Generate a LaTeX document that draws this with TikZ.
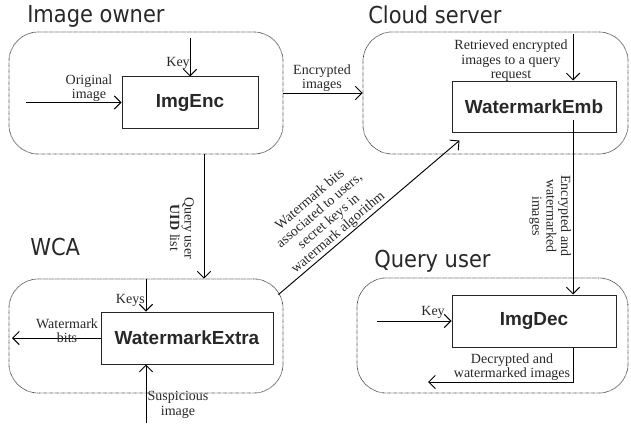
\documentclass[tikz,border=0pt]{standalone}
\usepackage{fontspec}
\setmainfont{Liberation Serif}
\newfontfamily\titrefont[FakeStretch=0.9]{DejaVu Sans}
\newfontfamily\boitefont{Liberation Sans}
\usepackage{xcolor}
\usepackage{tikz}
\usetikzlibrary{positioning, arrows.meta, calc}
\definecolor{grisbord}{RGB}{60, 60, 60}
\definecolor{gristexte}{RGB}{40, 40, 40}

\tikzset{
  groupe/.style={draw=grisbord, dash pattern=on 0.45pt off 0.45pt, rounded corners=22pt, line width=0.6pt, inner sep=0pt},
  boite/.style={draw=black!85, line width=0.75pt, inner sep=0pt, font=\boitefont\bfseries\fontsize{14.2}{16}\selectfont, text=gristexte},
  titre/.style={anchor=base west, inner sep=0pt, font=\titrefont\fontsize{17.5}{20}\selectfont, text=gristexte},
  etiq/.style={align=center, inner sep=0pt, font=\fontsize{10.5}{10.8}\selectfont, text=gristexte},
  fleche/.style={-{Straight Barb[length=5pt, width=10pt]}, line width=0.7pt}
}

\begin{document}
\begin{tikzpicture}[x=0.75pt, y=-0.75pt]
    \useasboundingbox[fill=white] (0,0) rectangle (631,428);

    % les quatre entites
    \node[groupe, minimum width=205.5pt, minimum height=91.5pt] (owner) at (146,93) {};
    \node[groupe, minimum width=198.75pt, minimum height=91.5pt] (cloud) at (495.5,93) {};
    \node[groupe, minimum width=205.5pt, minimum height=85.5pt] (wca) at (146,336) {};
    \node[groupe, minimum width=203.25pt, minimum height=86.25pt] (query) at (492.5,335.5) {};

    \node[titre] (tOwner) at (27,23) {Image owner};
    \node[titre] (tCloud) at (368,24) {Cloud server};
    \node[titre] (tWca) at (30,255) {WCA};
    \node[titre] (tQuery) at (374,267) {Query user};

    % modules
    \node[boite, minimum width=102pt, minimum height=38.25pt] (enc) at (190,102.5) {ImgEnc};
    \node[boite, minimum width=123pt, minimum height=38.25pt] (emb) at (534,106.5) {WatermarkEmb};
    \node[boite, minimum width=129pt, minimum height=39pt] (extra) at (187,338) {WatermarkExtra};
    \node[boite, minimum width=123pt, minimum height=39pt] (dec) at (534,321) {ImgDec};

    % entrees et sorties libres
    \coordinate (keyIn) at (190,38);
    \coordinate (origIn) at (26,102.5);
    \coordinate (retIn) at (573,34);
    \coordinate (decOut) at (428,382);
    \coordinate (keyDecIn) at (377,321);
    \coordinate (suspIn) at (146,423);
    \coordinate (bitsOut) at (12,338);

    % image owner
    \draw[fleche] (keyIn) -- (enc.north);
    \draw[fleche] (origIn) -- (enc.west);
    \node[etiq, anchor=east] (lKey) at (190,63) {Key};
    \node[etiq] (lOrig) at (89,88) {Original\\image};

    % vers le serveur
    \draw[fleche] (owner.east) -- (cloud.west);
    \node[etiq] (lEnc) at (322,78) {Encrypted\\images};

    % cloud server
    \draw[fleche] (retIn) -- (retIn |- emb.north);
    \node[etiq] (lRet) at (511,61) {Retrieved encrypted\\images to a query\\request};
    \draw[fleche] ([yshift=9.75pt]emb.south -| retIn) -- (dec.north -| retIn);
    \node[etiq, rotate=-90] (lEw) at (550,216) {Encrypted and\\watermarked\\images};

    % query user
    \draw[fleche] (keyDecIn) -- (dec.west);
    \node[etiq, anchor=east] (lKeyDec) at (445,312) {Key};
    \draw[fleche] (dec.south -| retIn) |- (decOut);
    \node[etiq] (lDec) at (512,367) {Decrypted and\\watermarked images};

    % owner -> WCA
    \draw[fleche] ([xshift=43.5pt]owner.south) -- ([xshift=43.5pt]owner.south |- wca.north);
    \node[etiq, rotate=-90] (lUid) at (182,228) {Query user\\\textbf{UID} list};

    % WCA
    \draw[fleche] (wca.north) -- (wca.north |- extra.north);
    \node[etiq, anchor=east] (lKeys) at (145,300) {Keys};
    \draw[fleche] (extra.west) -- (bitsOut);
    \node[etiq] (lBits) at (67,331) {Watermark\\bits};
    \draw[fleche] (suspIn) -- (suspIn |- extra.south);
    \node[etiq] (lSusp) at (178,405) {Suspicious\\image};

    % WCA -> cloud
    \draw[fleche] ([xshift=-3.75pt, yshift=-12pt]wca.north east) -- node[etiq, pos=0.36, above=1pt, sloped] (lWm) {Watermark bits\\associated to users,\\secret keys in\\watermark algorithm} ([xshift=6pt, yshift=-6pt]emb.south west);
\end{tikzpicture}
\end{document}
